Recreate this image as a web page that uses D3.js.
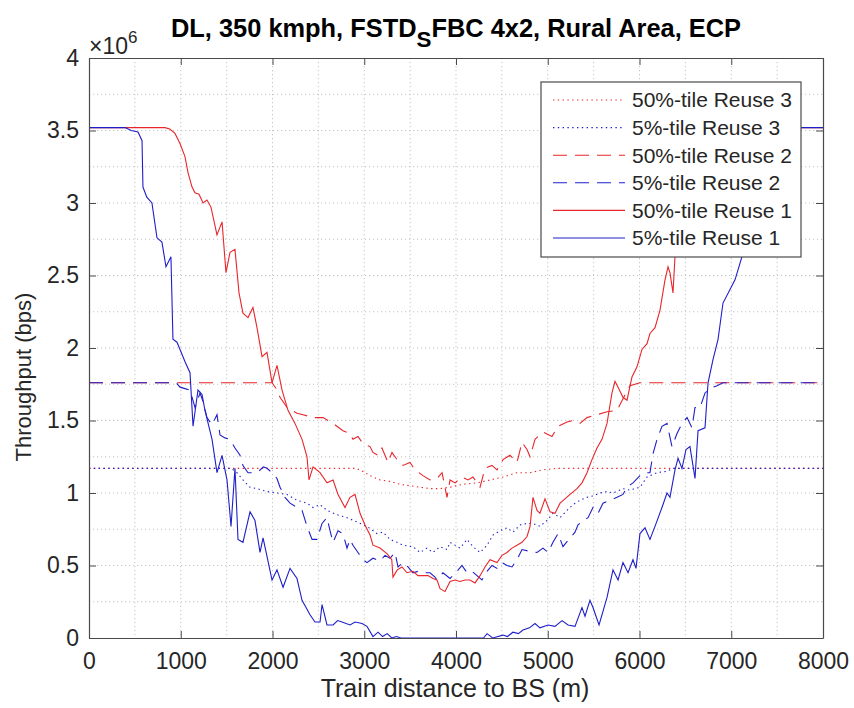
<!DOCTYPE html>
<html><head><meta charset="utf-8">
<script src="https://cdn.jsdelivr.net/npm/d3@7/dist/d3.min.js"></script>
<style>
body{margin:0;background:#fff}
text{font-family:"Liberation Sans",Arial,Helvetica,sans-serif}
</style>
</head><body>
<svg id="chart" width="854" height="708"></svg>
<script>
// ---- data (x: train distance in m, y: throughput in units of 1e6 bps) ----
const xTicks = [0,1000,2000,3000,4000,5000,6000,7000,8000];
const yTicks = [0,0.5,1,1.5,2,2.5,3,3.5,4];
const yTickLabels = ["0","0.5","1","1.5","2","2.5","3","3.5","4"];
const titleMain = "DL, 350 kmph, FSTD";
const titleSub = "S";
const titleRest = "FBC 4x2, Rural Area, ECP";
const xLabel = "Train distance to BS (m)";
const yLabel = "Throughput (bps)";
const seriesNames = ["50%-tile Reuse 3","5%-tile Reuse 3","50%-tile Reuse 2","5%-tile Reuse 2","50%-tile Reuse 1","5%-tile Reuse 1"];

const p50_reuse3 = [[0,1.17],[2900,1.17],[2954,1.16],[3063,1.12],[3172,1.09],[3281,1.08],[3390,1.06],[3499,1.05],[3608,1.04],[3717,1.03],[3826,1.03],[3935,1.04],[4076,1.06],[4229,1.07],[4371,1.09],[4512,1.11],[4665,1.14],[4807,1.14],[4948,1.16],[5101,1.17],[8000,1.17]];

const p5_reuse3 = [[0,1.17],[1550,1.17],[1613,1.14],[1678,1.09],[1755,1.04],[1831,1.03],[1940,1.01],[2049,1.00],[2158,0.99],[2267,0.95],[2376,0.93],[2442,0.90],[2518,0.92],[2594,0.88],[2703,0.85],[2812,0.83],[2921,0.80],[3030,0.77],[3139,0.72],[3204,0.73],[3281,0.68],[3357,0.66],[3422,0.64],[3531,0.63],[3608,0.59],[3684,0.62],[3749,0.59],[3826,0.63],[3902,0.61],[3935,0.66],[4044,0.62],[4120,0.68],[4185,0.63],[4262,0.59],[4338,0.64],[4403,0.71],[4480,0.74],[4556,0.76],[4621,0.73],[4697,0.78],[4774,0.79],[4839,0.79],[4915,0.77],[4992,0.81],[5057,0.86],[5134,0.83],[5210,0.88],[5275,0.92],[5351,0.95],[5428,0.97],[5493,0.98],[5569,1.0],[5646,1.01],[5711,1.0],[5820,1.03],[5896,1.02],[6005,1.04],[6082,1.11],[6191,1.14],[6300,1.15],[6365,1.17],[8000,1.17]];

const p50_reuse2 = [[0,1.76],[1995,1.76],[2040,1.72],[2082,1.66],[2158,1.59],[2267,1.55],[2332,1.54],[2442,1.52],[2551,1.52],[2660,1.48],[2768,1.43],[2845,1.41],[2877,1.37],[2932,1.39],[2986,1.34],[3063,1.32],[3095,1.28],[3150,1.26],[3193,1.31],[3259,1.21],[3302,1.28],[3357,1.23],[3422,1.19],[3499,1.21],[3553,1.16],[3640,1.12],[3717,1.09],[3793,1.10],[3848,1.14],[3902,0.97],[3935,1.09],[3989,1.07],[4065,1.11],[4131,1.09],[4185,1.11],[4262,1.04],[4316,1.17],[4392,1.19],[4447,1.16],[4512,1.23],[4588,1.26],[4665,1.21],[4719,1.35],[4774,1.30],[4807,1.25],[4861,1.37],[4948,1.42],[5046,1.39],[5112,1.46],[5210,1.49],[5275,1.50],[5351,1.48],[5428,1.52],[5537,1.54],[5646,1.56],[5755,1.57],[5820,1.65],[5896,1.74],[6005,1.76],[8000,1.76]];

const p5_reuse2 = [[0,1.76],[950,1.76],[992,1.73],[1046,1.72],[1101,1.71],[1155,1.59],[1210,1.69],[1243,1.63],[1286,1.52],[1341,1.47],[1395,1.54],[1428,1.40],[1482,1.38],[1537,1.37],[1591,1.31],[1646,1.26],[1678,1.19],[1733,1.14],[1787,1.14],[1850,1.15],[1900,1.18],[1940,1.17],[1995,1.14],[2049,1.10],[2082,1.04],[2136,0.97],[2191,0.93],[2267,0.90],[2322,0.88],[2376,0.77],[2431,0.68],[2485,0.68],[2540,0.79],[2594,0.83],[2627,0.74],[2660,0.66],[2714,0.74],[2768,0.72],[2812,0.62],[2845,0.68],[2877,0.64],[2932,0.59],[2986,0.54],[3030,0.52],[3095,0.55],[3172,0.53],[3226,0.57],[3281,0.55],[3335,0.59],[3368,0.49],[3422,0.52],[3477,0.49],[3531,0.45],[3586,0.46],[3640,0.45],[3717,0.45],[3771,0.42],[3793,0.40],[3858,0.45],[3935,0.41],[4011,0.46],[4065,0.50],[4120,0.45],[4174,0.46],[4229,0.43],[4283,0.40],[4338,0.46],[4392,0.50],[4447,0.48],[4501,0.52],[4556,0.50],[4610,0.49],[4665,0.54],[4719,0.61],[4785,0.60],[4883,0.59],[4948,0.62],[5003,0.59],[5057,0.66],[5112,0.72],[5166,0.63],[5243,0.69],[5297,0.73],[5330,0.78],[5384,0.81],[5439,0.83],[5493,0.90],[5548,0.86],[5602,0.93],[5678,0.95],[5755,0.97],[5820,0.99],[5864,1.04],[5929,1.07],[6005,1.12],[6060,1.14],[6114,1.14],[6147,1.27],[6191,1.37],[6245,1.46],[6300,1.48],[6354,1.32],[6409,1.41],[6463,1.48],[6518,1.52],[6572,1.45],[6605,1.59],[6660,1.59],[6714,1.69],[6768,1.72],[6845,1.74],[6910,1.76],[8000,1.76]];

const p50_reuse1 = [[0,3.52],[828,3.52],[880,3.51],[937,3.48],[992,3.41],[1046,3.32],[1079,3.21],[1123,3.11],[1155,3.07],[1199,3.06],[1243,3.0],[1286,3.02],[1330,2.97],[1395,2.78],[1450,2.87],[1493,2.52],[1537,2.66],[1591,2.68],[1635,2.38],[1678,2.24],[1733,2.21],[1787,2.28],[1831,2.14],[1886,1.94],[1940,1.97],[1995,1.76],[2049,1.88],[2104,1.71],[2169,1.57],[2245,1.48],[2322,1.37],[2376,1.25],[2398,1.09],[2442,1.18],[2518,1.14],[2594,1.07],[2660,1.09],[2714,0.99],[2790,0.90],[2845,0.97],[2899,0.99],[2954,0.86],[3008,0.78],[3063,0.71],[3095,0.64],[3172,0.62],[3250,0.58],[3300,0.54],[3313,0.42],[3360,0.47],[3411,0.49],[3466,0.45],[3531,0.46],[3586,0.43],[3640,0.43],[3695,0.43],[3749,0.41],[3793,0.40],[3826,0.34],[3880,0.32],[3935,0.39],[3989,0.40],[4044,0.39],[4098,0.40],[4153,0.40],[4207,0.38],[4262,0.43],[4316,0.49],[4371,0.54],[4447,0.52],[4501,0.57],[4556,0.59],[4610,0.62],[4665,0.64],[4719,0.66],[4774,0.70],[4807,0.77],[4839,0.97],[4883,0.88],[4915,0.86],[4970,0.96],[5025,0.87],[5079,0.86],[5134,0.93],[5188,0.96],[5243,0.99],[5319,1.03],[5373,1.07],[5428,1.14],[5482,1.23],[5537,1.31],[5591,1.37],[5646,1.48],[5700,1.69],[5733,1.77],[5766,1.73],[5820,1.66],[5864,1.64],[5918,1.80],[5973,1.87],[6027,1.99],[6082,2.03],[6114,2.10],[6169,2.14],[6223,2.26],[6278,2.47],[6311,2.56],[6332,2.52],[6365,2.38],[6387,2.63],[6500,2.85],[6650,3.15],[6800,3.38],[6950,3.49],[7050,3.52],[8000,3.52]];

const p5_reuse1 = [[0,3.52],[392,3.52],[460,3.50],[534,3.49],[578,3.43],[588,3.11],[630,3.04],[686,3.0],[741,2.76],[795,2.73],[839,2.56],[893,2.63],[915,2.06],[959,2.04],[992,1.99],[1050,1.90],[1101,1.83],[1134,1.46],[1188,1.71],[1232,1.68],[1264,1.57],[1341,1.37],[1395,1.14],[1450,1.26],[1504,1.09],[1548,0.77],[1591,1.17],[1624,0.68],[1678,0.66],[1755,0.87],[1809,0.81],[1864,0.59],[1897,0.69],[1995,0.40],[2049,0.47],[2115,0.35],[2191,0.48],[2267,0.41],[2322,0.26],[2409,0.16],[2463,0.11],[2518,0.11],[2540,0.23],[2594,0.09],[2660,0.09],[2710,0.12],[2758,0.11],[2845,0.09],[2900,0.11],[2976,0.10],[3030,0.08],[3095,0.01],[3150,0.04],[3200,0.01],[3250,0.03],[3300,0],[3350,0.01],[3400,0],[4300,0],[4338,0.03],[4400,0],[4512,0.02],[4560,0.01],[4621,0.04],[4680,0.03],[4730,0.055],[4800,0.07],[4861,0.10],[4915,0.07],[5003,0.09],[5079,0.08],[5156,0.12],[5221,0.09],[5297,0.08],[5373,0.21],[5406,0.15],[5460,0.26],[5493,0.21],[5559,0.09],[5646,0.28],[5711,0.47],[5766,0.40],[5820,0.52],[5875,0.45],[5929,0.54],[5962,0.48],[6005,0.72],[6060,0.76],[6114,0.68],[6169,0.77],[6245,0.90],[6300,1.0],[6332,0.97],[6387,1.16],[6420,1.24],[6463,1.17],[6507,1.30],[6550,1.32],[6605,1.10],[6638,1.43],[6714,1.45],[6747,1.76],[6801,1.92],[6856,2.06],[6910,2.31],[7041,2.47],[7117,2.63],[7200,2.85],[7330,3.05],[7450,3.40],[7550,3.50],[7650,3.52],[8000,3.52]];

const seriesData = [p50_reuse3, p5_reuse3, p50_reuse2, p5_reuse2, p50_reuse1, p5_reuse1];

// ---- styles (kept separate from data) ----
const RED = "#e8262b", BLUE = "#1f1fc9";
const seriesColor = [RED, BLUE, RED, BLUE, RED, BLUE];
const seriesDash = ["1.4,3.4","1.4,3.4","14,8","14,8",null,null];

// ---- layout ----
const svg = d3.select("#chart");
const L = 89, R = 823, T = 58, B = 638;
const x = d3.scaleLinear().domain([0,8000]).range([L,R]);
const y = d3.scaleLinear().domain([0,4]).range([B,T]);

// grid (major + minor)
const grid = svg.append("g");
const xGrid = d3.range(500, 8000, 500);
const yGrid = d3.range(0.25, 4, 0.25);
grid.selectAll(".gx").data(xGrid).join("line")
  .attr("x1", d=>x(d)).attr("x2", d=>x(d)).attr("y1", T).attr("y2", B)
  .attr("stroke", "#c4c4c4").attr("stroke-width", 1).attr("stroke-dasharray", "1.2,2.8");
grid.selectAll(".gy").data(yGrid).join("line")
  .attr("y1", d=>y(d)).attr("y2", d=>y(d)).attr("x1", L).attr("x2", R)
  .attr("stroke", "#c4c4c4").attr("stroke-width", 1).attr("stroke-dasharray", "1.2,2.8");

// series
const line = d3.line().x(d=>x(d[0])).y(d=>y(d[1]));
const plot = svg.append("g");
seriesData.forEach((s,i) => {
  plot.append("path").datum(s).attr("d", line)
    .attr("fill","none").attr("stroke", seriesColor[i]).attr("stroke-width", 1.1)
    .attr("stroke-dasharray", seriesDash[i]);
});

// axes
const axisColor = "#4a4a4a";
const fmtY = (d,i) => yTickLabels[yTicks.indexOf(d)];
const gB = svg.append("g").attr("transform", `translate(0,${B})`)
  .call(d3.axisBottom(x).tickValues(xTicks).tickSize(-7).tickSizeOuter(0).tickPadding(15).tickFormat(d3.format("d")));
const gT = svg.append("g").attr("transform", `translate(0,${T})`)
  .call(d3.axisTop(x).tickValues(xTicks).tickSize(-7).tickSizeOuter(0).tickFormat(""));
const gL = svg.append("g").attr("transform", `translate(${L},0)`)
  .call(d3.axisLeft(y).tickValues(yTicks).tickSize(-7).tickSizeOuter(0).tickPadding(10).tickFormat(fmtY));
const gR = svg.append("g").attr("transform", `translate(${R},0)`)
  .call(d3.axisRight(y).tickValues(yTicks).tickSize(-7).tickSizeOuter(0).tickFormat(""));
[gB,gT,gL,gR].forEach(g => {
  g.selectAll(".domain").attr("stroke", axisColor).attr("stroke-width", 1.2);
  g.selectAll(".tick line").attr("stroke", axisColor).attr("stroke-width", 1);
  g.selectAll(".tick text").attr("fill", "#262626").style("font-size", "23px")
    .style("font-family", '"Liberation Sans",Arial,sans-serif');
});

// exponent label
const ex = svg.append("text").attr("x", 89).attr("y", 54).attr("fill", "#262626");
ex.append("tspan").style("font-size", "23px").text("×10");
ex.append("tspan").attr("dy", -11).style("font-size", "17px").text("6");

// title
const tt = svg.append("text").attr("x", (L+R)/2).attr("y", 37).attr("text-anchor", "middle")
  .attr("fill", "#000").style("font-size", "25px").style("font-weight", "bold")
  .attr("textLength", 570).attr("lengthAdjust", "spacingAndGlyphs");
tt.append("tspan").text(titleMain);
tt.append("tspan").attr("dy", 10).style("font-size", "22px").text(titleSub);
tt.append("tspan").attr("dy", -10).text(titleRest);

// axis labels
svg.append("text").attr("x", 455).attr("y", 697).attr("text-anchor", "middle")
  .attr("fill", "#262626").style("font-size", "25px").text(xLabel);
svg.append("text").attr("transform", `translate(31,377) rotate(-90)`).attr("text-anchor", "middle")
  .attr("fill", "#262626").style("font-size", "22px").text(yLabel);

// legend
const lg = svg.append("g");
lg.append("rect").attr("x", 541).attr("y", 82).attr("width", 260).attr("height", 175)
  .attr("fill", "#fff").attr("stroke", "#4a4a4a").attr("stroke-width", 1.2);
seriesNames.forEach((name,i) => {
  const yy = 100 + i*27.6;
  lg.append("line").attr("x1", 553).attr("x2", 625).attr("y1", yy).attr("y2", yy)
    .attr("stroke", seriesColor[i]).attr("stroke-width", 1.1).attr("stroke-dasharray", seriesDash[i]);
  lg.append("text").attr("x", 632).attr("y", yy).attr("dy", "0.35em")
    .attr("fill", "#262626").style("font-size", "21px").text(name);
});
</script>
</body></html>
